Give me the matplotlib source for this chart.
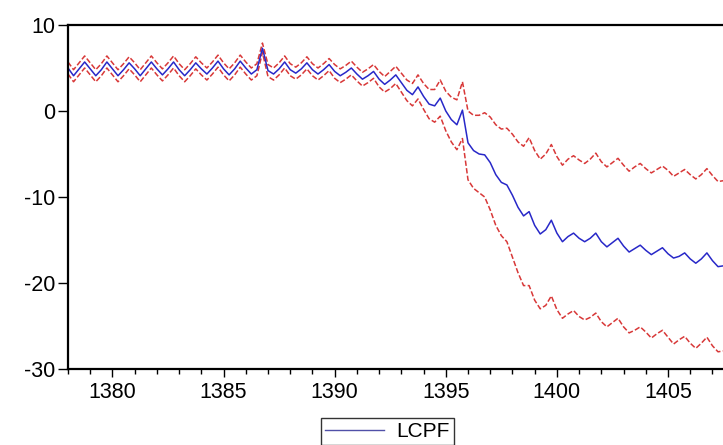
import matplotlib
matplotlib.use("Agg")
import matplotlib.pyplot as plt
from matplotlib.lines import Line2D
from matplotlib.ticker import MultipleLocator
import numpy as np

# quarterly forecast of LCPF with +/- 2 S.E. bands, first quarter = 1378.0
start_year = 1378

lcpf = [5.0, 4.1, 4.9, 5.7,  4.9, 4.1, 4.8, 5.7,  4.9, 4.1, 4.8, 5.6,
        4.9, 4.1, 4.9, 5.7,  4.9, 4.2, 4.9, 5.7,  4.8, 4.1, 4.8, 5.6,
        4.9, 4.3, 5.0, 5.8,  4.9, 4.2, 4.9, 5.8,  5.0, 4.3, 4.8, 7.3,
        4.7, 4.3, 4.9, 5.7,  4.8, 4.4, 4.9, 5.6,  4.8, 4.3, 4.8, 5.4,
        4.6, 4.1, 4.5, 5.0,  4.3, 3.7, 4.1, 4.6,  3.7, 3.1, 3.6, 4.2,
        3.3, 2.4, 1.9, 2.8,  1.7, 0.8, 0.6, 1.5,  0.0, -1.0, -1.6, 0.1,
        -3.7, -4.6, -5.0, -5.1,  -6.0, -7.4, -8.3, -8.6,
        -9.8, -11.2, -12.2, -11.7,  -13.3, -14.3, -13.8, -12.7,
        -14.2, -15.2, -14.6, -14.2,  -14.8, -15.2, -14.8, -14.2,
        -15.2, -15.8, -15.3, -14.8,  -15.7, -16.4, -16.0, -15.6,
        -16.2, -16.7, -16.3, -15.9,  -16.6, -17.1, -16.9, -16.5,
        -17.2, -17.7, -17.2, -16.5,  -17.4, -18.1, -18.0]

upper = [5.7, 4.8, 5.6, 6.4,  5.6, 4.8, 5.5, 6.4,  5.6, 4.8, 5.5, 6.3,
         5.6, 4.8, 5.6, 6.4,  5.6, 4.9, 5.6, 6.4,  5.5, 4.8, 5.5, 6.3,
         5.6, 5.0, 5.7, 6.5,  5.6, 4.9, 5.6, 6.5,  5.7, 5.0, 5.5, 7.9,
         5.4, 5.0, 5.6, 6.4,  5.5, 5.1, 5.6, 6.3,  5.5, 5.0, 5.5, 6.1,
         5.4, 4.9, 5.3, 5.8,  5.1, 4.5, 4.9, 5.4,  4.6, 4.0, 4.6, 5.2,
         4.4, 3.6, 3.2, 4.2,  3.2, 2.5, 2.5, 3.6,  2.3, 1.6, 1.3, 3.4,
         0.0, -0.5, -0.5, -0.2,  -0.7, -1.6, -2.1, -2.0,
         -2.7, -3.6, -4.1, -3.1,  -4.6, -5.6, -5.0, -3.9,
         -5.3, -6.3, -5.6, -5.2,  -5.7, -6.1, -5.6, -4.9,
         -5.9, -6.5, -6.0, -5.5,  -6.3, -7.0, -6.5, -6.1,
         -6.7, -7.2, -6.8, -6.4,  -6.9, -7.6, -7.2, -6.8,
         -7.4, -7.9, -7.4, -6.7,  -7.5, -8.2, -8.1]

lower = [4.3, 3.4, 4.2, 5.0,  4.2, 3.4, 4.1, 5.0,  4.2, 3.4, 4.1, 4.9,
         4.2, 3.4, 4.2, 5.0,  4.2, 3.5, 4.2, 5.0,  4.1, 3.4, 4.1, 4.9,
         4.2, 3.6, 4.3, 5.1,  4.2, 3.5, 4.2, 5.1,  4.3, 3.6, 4.1, 6.8,
         4.0, 3.6, 4.2, 5.0,  4.1, 3.7, 4.2, 4.9,  4.1, 3.6, 4.1, 4.7,
         3.8, 3.3, 3.7, 4.2,  3.5, 2.9, 3.3, 3.8,  2.8, 2.2, 2.6, 3.2,
         2.2, 1.2, 0.6, 1.4,  0.2, -0.9, -1.3, -0.6,  -2.3, -3.6, -4.5, -3.2,
         -8.0, -9.0, -9.5, -10.0,  -11.5, -13.3, -14.5, -15.2,
         -17.0, -18.8, -20.3, -20.3,  -22.0, -23.0, -22.6, -21.5,
         -23.1, -24.1, -23.6, -23.2,  -23.9, -24.3, -24.0, -23.5,
         -24.5, -25.1, -24.6, -24.1,  -25.1, -25.8, -25.5, -25.1,
         -25.7, -26.4, -25.9, -25.5,  -26.3, -27.1, -26.6, -26.2,
         -27.0, -27.6, -27.0, -26.3,  -27.3, -28.0, -27.9]

years = start_year + np.arange(len(lcpf)) / 4.0

plt.rcParams['font.family'] = ['Liberation Sans', 'DejaVu Sans']
plt.rcParams['axes.unicode_minus'] = False

fig = plt.figure(figsize=(7.23, 4.45), dpi=100)
ax = fig.add_axes([68/723, 1 - 369/445, 1 - 68/723 + 0.01, (369 - 25)/445])

ax.plot(years, upper, color='#d83838', linestyle=(0, (3.5, 1.5)), linewidth=1.1)
ax.plot(years, lower, color='#d83838', linestyle=(0, (3.5, 1.5)), linewidth=1.1)
ax.plot(years, lcpf, color='#2828c8', linewidth=1.1)

ax.set_xlim(1378.0, 1407.5 + 0.3)
ax.set_ylim(-30, 10)
ax.set_yticks([-30, -20, -10, 0, 10])
ax.xaxis.set_major_locator(MultipleLocator(5))
ax.xaxis.set_minor_locator(MultipleLocator(1))
ax.tick_params(axis='y', direction='out', length=7, width=1, labelsize=15.5, pad=2)
ax.tick_params(axis='x', which='major', direction='out', length=5.5, width=1, labelsize=15.5, pad=4)
ax.tick_params(axis='x', which='minor', direction='out', length=3.5, width=1)
ax.spines['right'].set_visible(False)
for s in ['left', 'top', 'bottom']:
    ax.spines[s].set_linewidth(1.6)

handle = Line2D([], [], color='#5050a8', linewidth=1)
leg = fig.legend([handle], ['LCPF'], loc='upper left', bbox_to_anchor=(321/723, 1 - 418/445),
                 frameon=True, fancybox=False, fontsize=15, handlelength=2.8,
                 borderaxespad=0, borderpad=0.2, handletextpad=0.6)
leg.get_frame().set_edgecolor('black')
leg.get_frame().set_linewidth(1.0)

fig.savefig('out.png', dpi=100)
